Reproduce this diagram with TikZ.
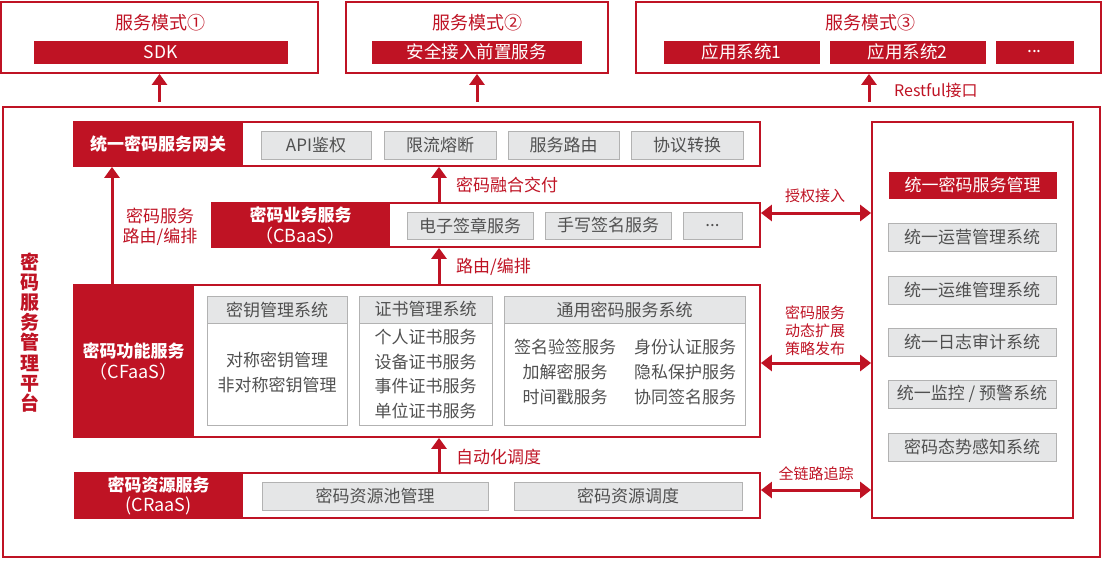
\documentclass[tikz,border=0pt]{standalone}
\usepackage{fontspec}
\setmainfont{Noto Sans CJK SC}
\usetikzlibrary{arrows.meta}
\definecolor{cred}{RGB}{191,19,36}
\definecolor{gfill}{RGB}{229,230,231}
\definecolor{gline}{RGB}{178,178,178}
\definecolor{gtext}{RGB}{80,80,80}
\newcommand\fsL{\fontsize{17}{21}\selectfont}
\newcommand\fsM{\fontsize{17.5}{20}\selectfont}
\newcommand\fsS{\fontsize{15}{18}\selectfont}
\tikzset{
  outerbox/.style={draw=cred, line width=1.8, fill=white, rectangle, inner sep=0},
  redbar/.style={fill=cred, draw=cred, line width=1, text=white, rectangle, inner sep=0, font=\fsM},
  redhead/.style={fill=cred, draw=cred, line width=1.8, text=white, rectangle, inner sep=0, align=center, font=\fsL\bfseries},
  graybox/.style={fill=gfill, draw=gline, line width=1, text=gtext, rectangle, inner sep=0, font=\fsL},
  panelbox/.style={fill=white, draw=gline, line width=1, rectangle, inner sep=0},
  gtxt/.style={text=gtext, align=center, inner sep=0, font=\fontsize{17}{24.7}\selectfont},
  redlbl/.style={text=cred, inner sep=0, font=\fsL},
  titlelbl/.style={text=cred, inner sep=0, font=\fontsize{18}{20}\selectfont},
  redsmall/.style={text=cred, inner sep=0, align=center, font=\fsS},
  arr/.style={draw=cred, line width=3, -{Triangle[width=15pt,length=11pt]}},
  darr/.style={draw=cred, line width=3, {Triangle[width=16pt,length=11pt]}-{Triangle[width=16pt,length=11pt]}},
}
\begin{document}
\begin{tikzpicture}[x=1pt,y=-1pt]
\useasboundingbox (0,0) rectangle (1105,560);

% ---------- top service modes ----------
\node[outerbox, minimum width=317, minimum height=71] (m1) at (159.5,37.5) {};
\node[titlelbl] (t1) at (160,23) {服务模式①};
\node[redbar, minimum width=253, minimum height=22] (sdk) at (160.5,52) {SDK};

\node[outerbox, minimum width=262, minimum height=71] (m2) at (477,37.5) {};
\node[titlelbl] (t2) at (477,23) {服务模式②};
\node[redbar, minimum width=209, minimum height=22] (front) at (476.5,52) {安全接入前置服务};

\node[outerbox, minimum width=465, minimum height=71] (m3) at (868.5,37.5) {};
\node[titlelbl] (t3) at (870,23) {服务模式③};
\node[redbar, minimum width=155, minimum height=22] (app1) at (741.5,52) {应用系统1};
\node[redbar, minimum width=155, minimum height=22] (app2) at (907.5,52) {应用系统2};
\node[redbar, minimum width=77, minimum height=22] (app3) at (1034.5,52) {...};

% ---------- main frame ----------
\node[outerbox, minimum width=1097, minimum height=450] (frame) at (551.5,332) {};
\node[text=cred, inner sep=0, align=center, font=\fontsize{19}{20.2}\selectfont\bfseries] (plat) at (30,332.5) {密\\码\\服\\务\\管\\理\\平\\台};

% ---------- gateway ----------
\node[outerbox, minimum width=686, minimum height=44] (gw) at (417,144) {};
\node[redhead, minimum width=168, minimum height=44] (gwh) at (158,144) {统一密码服务网关};
\node[graybox, minimum width=110, minimum height=28] (g1) at (316,145) {API鉴权};
\node[graybox, minimum width=112, minimum height=28] (g2) at (440,145) {限流熔断};
\node[graybox, minimum width=111, minimum height=28] (g3) at (563.5,145) {服务路由};
\node[graybox, minimum width=112, minimum height=28] (g4) at (687,145) {协议转换};

% ---------- CBaaS ----------
\node[outerbox, minimum width=548, minimum height=44] (cb) at (486,225) {};
\node[redhead, minimum width=177, minimum height=44, font=\fontsize{17}{21}\selectfont] (cbh) at (300.5,225) {\bfseries 密码业务服务\\{\fontsize{18}{21}\selectfont（CBaaS）}};
\node[graybox, minimum width=126, minimum height=27] (b1) at (470,225.5) {电子签章服务};
\node[graybox, minimum width=126, minimum height=27] (b2) at (608,225.5) {手写签名服务};
\node[graybox, minimum width=59, minimum height=27] (b3) at (712.5,225.5) {...};

% ---------- CFaaS ----------
\node[outerbox, minimum width=686, minimum height=152] (cf) at (417,361) {};
\node[redhead, minimum width=119, minimum height=152, font=\fontsize{17}{21}\selectfont] (cfh) at (133.5,361) {\bfseries 密码功能服务\\{\fontsize{18}{21}\selectfont（CFaaS）}};

\node[panelbox, minimum width=140, minimum height=129] (kms) at (277,360.5) {};
\node[graybox, minimum width=140, minimum height=27, anchor=north] (kmsh) at (kms.north) {密钥管理系统};
\node[gtxt] (kmst) at (277,372.5) {对称密钥管理\\非对称密钥管理};

\node[panelbox, minimum width=133, minimum height=129] (ca) at (425.5,360.5) {};
\node[graybox, minimum width=133, minimum height=27, anchor=north] (cah) at (ca.north) {证书管理系统};
\node[gtxt] (cat) at (425.5,374) {个人证书服务\\设备证书服务\\事件证书服务\\单位证书服务};

\node[panelbox, minimum width=241, minimum height=129] (gen) at (624.5,360.5) {};
\node[graybox, minimum width=241, minimum height=27, anchor=north] (genh) at (gen.north) {通用密码服务系统};
\node[gtxt, font=\fontsize{17}{25}\selectfont] (genl) at (565,372) {签名验签服务\\加解密服务\\时间戳服务};
\node[gtxt, font=\fontsize{17}{25}\selectfont] (genr) at (685,372) {身份认证服务\\隐私保护服务\\协同签名服务};

% ---------- CRaaS ----------
\node[outerbox, minimum width=685, minimum height=45] (cr) at (417.5,495.5) {};
\node[redhead, minimum width=167, minimum height=45, font=\fontsize{17}{20}\selectfont] (crh) at (158.5,495.5) {\bfseries 密码资源服务\\{\fontsize{18}{20}\selectfont (CRaaS)}};
\node[graybox, minimum width=226, minimum height=28] (r1) at (375,496) {密码资源池管理};
\node[graybox, minimum width=228, minimum height=28] (r2) at (628,496) {密码资源调度};

% ---------- right management panel ----------
\node[outerbox, minimum width=201, minimum height=396] (rp) at (972.5,320) {};
\node[redbar, minimum width=167, minimum height=26, font=\fsL] (rph) at (972.5,185) {统一密码服务管理};
\node[graybox, minimum width=168, minimum height=28] (s1) at (972,237.5) {统一运营管理系统};
\node[graybox, minimum width=168, minimum height=28] (s2) at (972,290) {统一运维管理系统};
\node[graybox, minimum width=168, minimum height=28] (s3) at (972,342) {统一日志审计系统};
\node[graybox, minimum width=168, minimum height=28] (s4) at (972,394) {统一监控 / 预警系统};
\node[graybox, minimum width=168, minimum height=28] (s5) at (972,447) {密码态势感知系统};

% ---------- connectors ----------
\coordinate (xr) at (869,0);
\coordinate (xm) at (439,0);
\coordinate (xl) at (112,0);
\coordinate (ya) at (0,213);
\coordinate (yb) at (0,363);
\coordinate (yc) at (0,490);

\draw[arr] ([yshift=4pt]frame.north -| m1.south) -- (m1.south);
\draw[arr] ([yshift=4pt]frame.north -| m2.south) -- (m2.south);
\draw[arr] ([yshift=4pt]frame.north -| xr) -- (m3.south -| xr);
\node[redlbl, anchor=west, font=\fontsize{16}{20}\selectfont] (lrest) at (894,90) {Restful接口};

\draw[arr] (cb.north -| xm) -- (gw.south -| xm);
\node[redlbl, anchor=west] (l1) at (456,185) {密码融合交付};
\draw[arr] (cf.north -| xm) -- (cb.south -| xm);
\node[redlbl, anchor=west] (l2) at (456,267) {路由/编排};
\draw[arr] (cr.north -| xm) -- (cf.south -| xm);
\node[redlbl, anchor=west] (l3) at (456,457) {自动化调度};

\draw[arr] (cf.north -| xl) -- (gw.south -| xl);
\node[redlbl, align=center, font=\fontsize{17}{20.5}\selectfont] (l4) at (160,227) {密码服务\\路由/编排};

\draw[darr] (cb.east |- ya) -- (rp.west |- ya);
\node[redsmall] (l5) at (815,196) {授权接入};
\draw[darr] (cf.east |- yb) -- (rp.west |- yb);
\node[redsmall] (l6) at (815,331) {密码服务\\动态扩展\\策略发布};
\draw[darr] (cr.east |- yc) -- (rp.west |- yc);
\node[redsmall] (l7) at (816,474) {全链路追踪};
\end{tikzpicture}
\end{document}
